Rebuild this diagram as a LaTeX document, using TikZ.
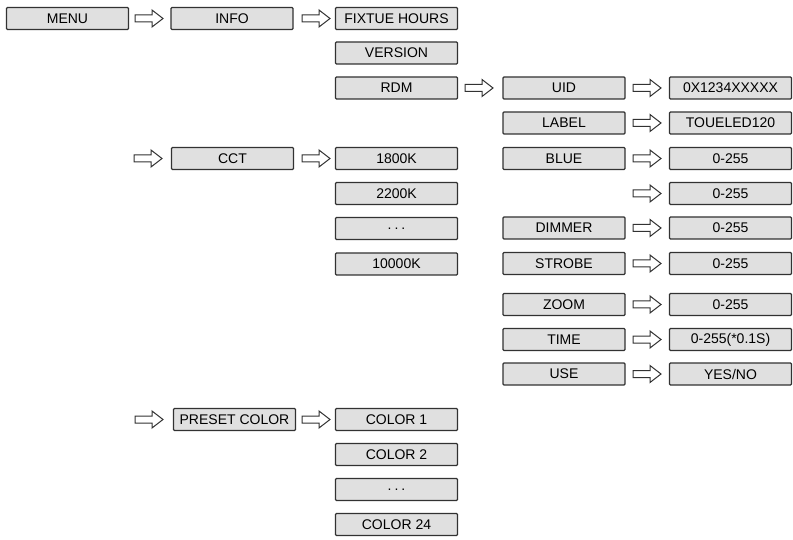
\documentclass[tikz,border=0pt]{standalone}
\usepackage{fontspec}
\setmainfont{Liberation Sans}
\definecolor{boxfill}{RGB}{224,224,224}
\definecolor{boxline}{RGB}{50,50,50}
\tikzset{
  menubox/.style={draw=boxline, fill=boxfill, line width=1.2pt, rounded corners=1pt,
    minimum width=122pt, minimum height=22pt, inner sep=0pt,
    font=\fontsize{14}{16}\selectfont},
  pics/blockarr/.style={code={
    \draw [draw=boxline, line width=1pt, fill=white, line join=miter]
      (0,-3.5) -- (17,-3.5) -- (17,-8.5) -- (28,0) -- (17,8.5) -- (17,3.5) -- (0,3.5) -- cycle;
  }}
}
\newcommand{\mdots}{.\hspace{3pt}.\hspace{3pt}.}
\begin{document}
\begin{tikzpicture}[x=1pt,y=-1pt]
\useasboundingbox (0,0) rectangle (793,540);
% first level
\node [menubox] (menu) at (67.5,18.5) {MENU};
\node [menubox] (info) at (232,18.5) {INFO};
\node [menubox] (cct) at (232.5,158.5) {CCT};
\node [menubox] (preset) at (234.5,419.5) {PRESET COLOR};
% info column
\node [menubox] (hours) at (396.5,18.5) {FIXTUE HOURS};
\node [menubox] (version) at (396.5,53) {VERSION};
\node [menubox] (rdm) at (396.5,88) {RDM};
% cct column
\node [menubox] (k1800) at (396.5,158.5) {1800K};
\node [menubox] (k2200) at (396.5,193.5) {2200K};
\node [menubox] (kdots) at (396.5,228.5) {\mdots};
\node [menubox] (k10000) at (396.5,264) {10000K};
% preset column
\node [menubox] (col1) at (396.5,419.5) {COLOR 1};
\node [menubox] (col2) at (396.5,454.5) {COLOR 2};
\node [menubox] (coldots) at (396.5,489.5) {\mdots};
\node [menubox] (col24) at (396.5,524.5) {COLOR 24};
% rdm column
\node [menubox] (uid) at (564,88) {UID};
\node [menubox] (label) at (564,123) {LABEL};
\node [menubox] (blue) at (564,158.5) {BLUE};
\node [menubox] (dimmer) at (564,228) {DIMMER};
\node [menubox] (strobe) at (564,263.5) {STROBE};
\node [menubox] (zoom) at (564,304.5) {ZOOM};
\node [menubox] (time) at (564,339.5) {TIME};
\node [menubox] (use) at (564,374) {USE};
% values
\node [menubox] (uidval) at (730.5,88) {0X1234XXXXX};
\node [menubox] (labelval) at (730.5,123) {TOUELED120};
\node [menubox] (blueval) at (730.5,158.5) {0-255};
\node [menubox] (extraval) at (730.5,193.5) {0-255};
\node [menubox] (dimmerval) at (730.5,228) {0-255};
\node [menubox] (strobeval) at (730.5,263.5) {0-255};
\node [menubox] (zoomval) at (730.5,304.5) {0-255};
\node [menubox] (timeval) at (730.5,339.5) {0-255(*0.1S)};
\node [menubox] (useval) at (730.5,374) {YES/NO};
% arrows
\pic at (135,18.5) {blockarr};
\pic at (302,18.5) {blockarr};
\pic at (465,88) {blockarr};
\pic at (134,158.5) {blockarr};
\pic at (302,158.5) {blockarr};
\pic at (135,419.5) {blockarr};
\pic at (302,419.5) {blockarr};
\foreach \r in {88,123,158.5,193.5,228,263.5,304.5,339.5,374}
  \pic at (633,\r) {blockarr};
\end{tikzpicture}
\end{document}
